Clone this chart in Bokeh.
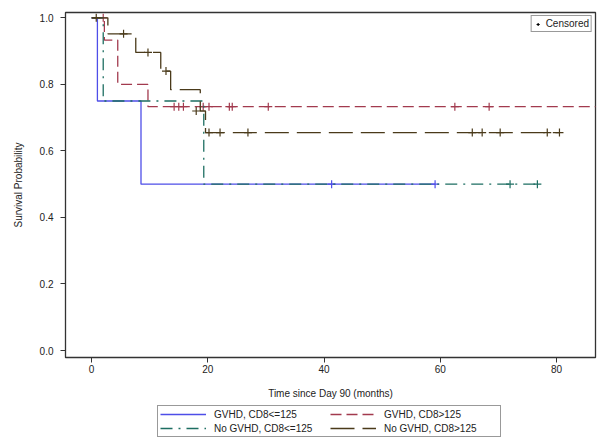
from bokeh.plotting import figure
from bokeh.layouts import column
from bokeh.models import Legend, LegendItem, Range1d, FixedTicker, NumeralTickFormatter
from bokeh.embed import file_html
from bokeh.resources import INLINE

# ---- data ----
blue_t = [0, 1.0, 8.5, 59.1]
blue_s = [1.0, 0.75, 0.5, 0.5]
blue_ct = [41.3, 59.1]
blue_cs = [0.5, 0.5]

red_t = [0, 2.2, 4.5, 9.7, 87.0]
red_s = [1.0, 0.933, 0.8, 0.733, 0.733]
red_ct = [2.0, 14.2, 15.0, 15.8, 19.2, 20.2, 23.7, 24.2, 30.4, 62.5, 68.4]
red_cs = [1.0, 0.733, 0.733, 0.733, 0.733, 0.733, 0.733, 0.733, 0.733, 0.733, 0.733]

teal_t = [0, 2.0, 19.3, 76.7]
teal_s = [1.0, 0.75, 0.5, 0.5]
teal_ct = [72.0, 76.7]
teal_cs = [0.5, 0.5]

dark_t = [0, 2.8, 7.6, 11.9, 13.6, 18.7, 19.6, 80.5]
dark_s = [1.0, 0.952, 0.896, 0.840, 0.784, 0.72, 0.655, 0.655]
dark_ct = [0.8, 5.5, 9.7, 12.8, 18.0, 20.2, 22.1, 26.9, 65.5, 67.2, 70.3, 78.4, 80.5]
dark_cs = [1.0, 0.952, 0.896, 0.840, 0.72, 0.655, 0.655, 0.655, 0.655, 0.655, 0.655, 0.655, 0.655]

labels = ["GVHD, CD8<=125", "GVHD, CD8>125", "No GVHD, CD8<=125", "No GVHD, CD8>125"]
x_ticks = [0, 20, 40, 60, 80]
y_ticks = [0.0, 0.2, 0.4, 0.6, 0.8, 1.0]

FONT = "Liberation Sans"
colors = ["#4e4ee8", "#a23a4e", "#1d6e62", "#4a3a1a"]
dashes = ["solid", "11 5", "12 6 2 6", "24 8"]

p = figure(width=597, height=401, output_backend="svg", toolbar_location=None,
           x_range=Range1d(-4.49, 86.7), y_range=Range1d(-0.021, 1.016),
           min_border_left=65, min_border_top=12, min_border_right=2, min_border_bottom=44)
p.xgrid.visible = False
p.ygrid.visible = False
p.outline_line_color = "#333333"
p.outline_line_width = 1.3

series = [(blue_t, blue_s, blue_ct, blue_cs), (red_t, red_s, red_ct, red_cs),
          (teal_t, teal_s, teal_ct, teal_cs), (dark_t, dark_s, dark_ct, dark_cs)]
for (t, s, ct, cs), c, d in zip(series, colors, dashes):
    p.step(t, s, mode="after", line_color=c, line_width=1.3, line_dash=d)
    p.scatter(ct, cs, marker="cross", size=8, line_color=c, line_width=1.2)

for ax in (p.xaxis[0], p.yaxis[0]):
    ax.axis_line_color = "#333333"
    ax.major_tick_line_color = "#333333"
    ax.minor_tick_line_color = None
    ax.major_tick_in = 0
    ax.major_tick_out = 5
    ax.major_label_text_font = FONT
    ax.major_label_text_font_size = "10px"
    ax.major_label_text_color = "#222222"
    ax.axis_label_text_font = FONT
    ax.axis_label_text_font_size = "10px"
    ax.axis_label_text_font_style = "normal"
    ax.axis_label_text_color = "#222222"

p.xaxis.ticker = FixedTicker(ticks=x_ticks)
p.yaxis.ticker = FixedTicker(ticks=y_ticks)
p.yaxis.formatter = NumeralTickFormatter(format="0.0")
p.xaxis.axis_label = "Time since Day 90 (months)"
p.yaxis.axis_label = "Survival Probability"
p.xaxis.major_label_standoff = 2
p.xaxis.axis_label_standoff = 12
p.yaxis.major_label_standoff = 7
p.yaxis.axis_label_standoff = 13

# censored key
cr = p.scatter([-1000], [-1000], marker="cross", size=6, line_color="black", line_width=1.2)
leg2 = Legend(items=[LegendItem(label="Censored", renderers=[cr])], location="top_right",
              border_line_color="#333333", border_line_width=1.5,
              label_text_font=FONT, label_text_font_size="10px", label_text_color="#222222",
              glyph_width=8, glyph_height=10, label_height=10, label_standoff=4,
              padding=2, margin=3, background_fill_alpha=1)
p.add_layout(leg2, "center")

# legend strip below the plot (key glyphs only, drawn outside its visible range)
q = figure(width=597, height=38, output_backend="svg", toolbar_location=None,
           x_range=Range1d(10, 11), y_range=Range1d(10, 11),
           min_border=0, outline_line_color=None)
q.axis.visible = False
q.grid.visible = False
items = []
for c, d, lab in zip(colors, dashes, labels):
    r = q.line([0, 1], [0, 0], line_color=c, line_width=1.3, line_dash=d)
    items.append(LegendItem(label=lab, renderers=[r]))
legend = Legend(items=items, orientation="horizontal", ncols=2, location=(92, 2),
                border_line_color="#333333", border_line_width=1,
                label_text_font=FONT, label_text_font_size="10px", label_text_color="#222222",
                glyph_width=46, glyph_height=12, label_height=12, label_width=114,
                label_standoff=8, padding=2, spacing=2, margin=0, background_fill_alpha=1)
q.add_layout(legend, "center")

open("out.html", "w").write(file_html(column(p, q, spacing=0), INLINE))
